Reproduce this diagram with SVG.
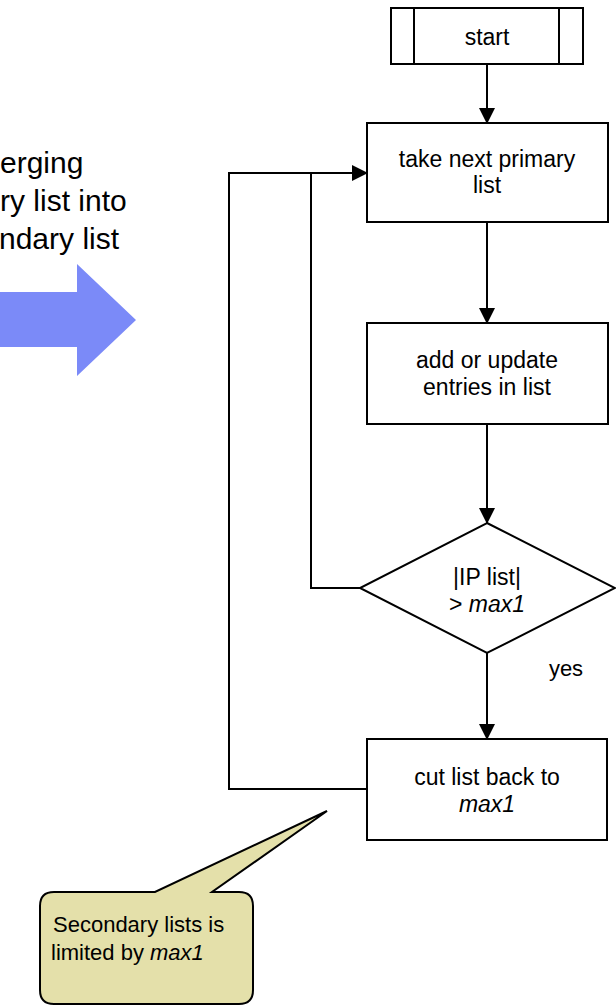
<svg xmlns="http://www.w3.org/2000/svg" width="616" height="1006" viewBox="0 0 616 1006">
<style>
.box{fill:#fff;stroke:#000;stroke-width:2}
.ln{fill:none;stroke:#000;stroke-width:2}
.t{font-family:"Liberation Sans",Arial,sans-serif;font-size:23px;fill:#000;text-anchor:middle}
.big{font-family:"Liberation Sans",Arial,sans-serif;font-size:30px;fill:#000}
.i{font-style:italic}
</style>
<defs>
<marker id="ah" markerWidth="16" markerHeight="16" refX="15" refY="8" orient="auto" markerUnits="userSpaceOnUse">
<path d="M0,0 L16,8 L0,16 Z" fill="#000"/>
</marker>
</defs>
<rect width="616" height="1006" fill="#fff"/>
<g id="title">
<text class="big" x="0" y="173">erging</text>
<text class="big" x="0" y="211">ry list into</text>
<text class="big" x="-1" y="249">ndary list</text>
</g>
<g id="bigarrow">
<polygon points="0,292 77,292 77,264 136,320 77,376 77,347 0,347" fill="#7B8AF8"/>
</g>
<g id="connectors">
<line class="ln" x1="487" y1="64" x2="487" y2="123" marker-end="url(#ah)"/>
<line class="ln" x1="487" y1="222" x2="487" y2="323" marker-end="url(#ah)"/>
<line class="ln" x1="487" y1="424" x2="487" y2="523" marker-end="url(#ah)"/>
<line class="ln" x1="487" y1="653" x2="487" y2="739" marker-end="url(#ah)"/>
<polyline class="ln" points="367,789 229,789 229,173 367,173" marker-end="url(#ah)"/>
<polyline class="ln" points="360,588 311,588 311,173"/>
</g>
<g id="start">
<rect class="box" x="391" y="8" width="192" height="56"/>
<line class="ln" x1="414" y1="8" x2="414" y2="64"/>
<line class="ln" x1="559" y1="8" x2="559" y2="64"/>
<text class="t" x="487" y="45">start</text>
</g>
<g id="take">
<rect class="box" x="367" y="123" width="241" height="99"/>
<text class="t" x="487" y="167">take next primary</text>
<text class="t" x="487" y="193">list</text>
</g>
<g id="add">
<rect class="box" x="367" y="323" width="241" height="101"/>
<text class="t" x="487" y="368">add or update</text>
<text class="t" x="487" y="395">entries in list</text>
</g>
<g id="decision">
<polygon class="box" points="487,523 615,588 487,653 360,588"/>
<text class="t" x="487" y="585">|IP list|</text>
<text class="t" x="487" y="612">&gt; <tspan class="i">max1</tspan></text>
<text class="t" x="566" y="676" style="font-size:22px">yes</text>
</g>
<g id="cut">
<rect class="box" x="367" y="739" width="240" height="101"/>
<text class="t" x="487" y="785">cut list back to</text>
<text class="t i" x="487" y="812">max1</text>
</g>
<g id="callout">
<path d="M54,892 L155,892 L327,811 L212,892 L239,892 Q253,892 253,906 L253,990 Q253,1004 239,1004 L54,1004 Q40,1004 40,990 L40,906 Q40,892 54,892 Z" fill="#E4E0AA" stroke="#000" stroke-width="2"/>
<text class="t" style="text-anchor:start;font-size:22px" x="53" y="932">Secondary lists is</text>
<text class="t" style="text-anchor:start;font-size:22px" x="51" y="960">limited by <tspan class="i">max1</tspan></text>
</g>
</svg>
